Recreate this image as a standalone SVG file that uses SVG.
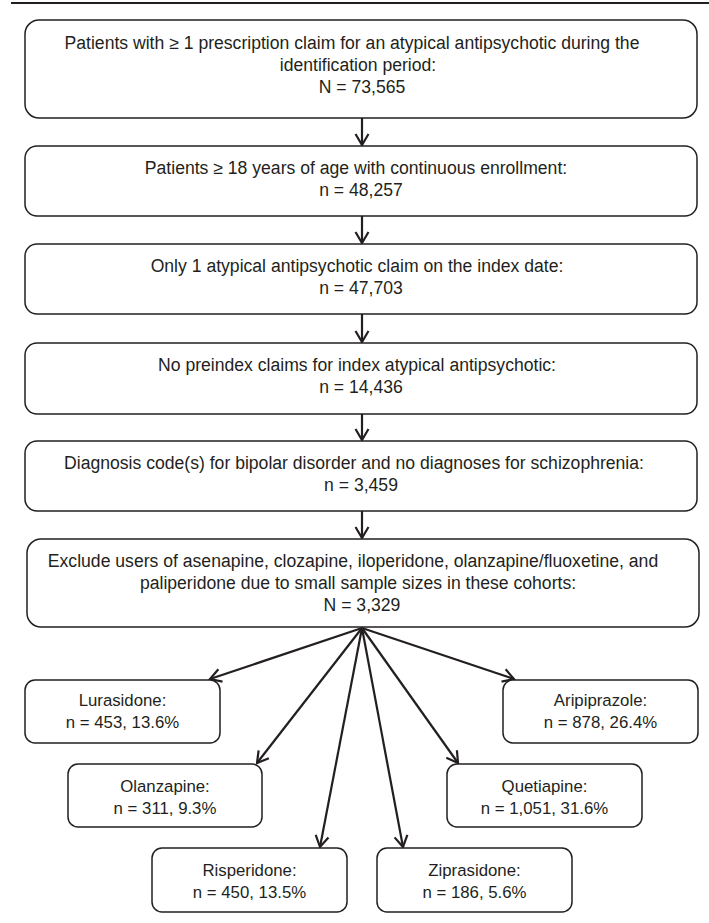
<svg xmlns="http://www.w3.org/2000/svg" width="709" height="923" viewBox="0 0 709 923">
<style>
.b{fill:#fff;stroke:#231f20;stroke-width:1.5}
.t{font-family:"Liberation Sans",Arial,sans-serif;font-size:17.6px;fill:#231f20;text-anchor:middle}
.s{font-size:16.8px}
.c line{stroke:#231f20;stroke-width:2.2;marker-end:url(#a)}
</style>
<defs>
<marker id="a" viewBox="0 0 14 16" refX="12" refY="8" markerWidth="14" markerHeight="16" markerUnits="userSpaceOnUse" orient="auto">
<path d="M1,1.5 L12,8 L1,14.5" fill="none" stroke="#231f20" stroke-width="2.2"/>
</marker>
</defs>
<rect width="709" height="923" fill="#fff"/>
<line x1="11" y1="3" x2="709" y2="3" stroke="#231f20" stroke-width="2"/>
<g class="c">
<line x1="362" y1="118" x2="362" y2="145"/>
<line x1="362" y1="216" x2="362" y2="243"/>
<line x1="362" y1="314" x2="362" y2="342"/>
<line x1="362" y1="414" x2="362" y2="440"/>
<line x1="362" y1="511" x2="362" y2="538"/>
<line x1="362" y1="628" x2="210" y2="679"/>
<line x1="362" y1="628" x2="514" y2="679"/>
<line x1="362" y1="628" x2="257" y2="763"/>
<line x1="362" y1="628" x2="458" y2="763"/>
<line x1="362" y1="628" x2="320" y2="847"/>
<line x1="362" y1="628" x2="403" y2="847"/>
</g>
<g id="n1"><rect class="b" x="25" y="20" width="672" height="98" rx="14"/>
<text class="t" x="352" y="49">Patients with ≥ 1 prescription claim for an atypical antipsychotic during the</text>
<text class="t" x="358" y="71">identification period:</text>
<text class="t" x="362" y="93">N = 73,565</text></g>
<g id="n2"><rect class="b" x="25" y="146" width="672" height="70" rx="12"/>
<text class="t" x="356" y="174">Patients ≥ 18 years of age with continuous enrollment:</text>
<text class="t" x="361" y="196">n = 48,257</text></g>
<g id="n3"><rect class="b" x="25" y="244" width="672" height="70" rx="12"/>
<text class="t" x="357" y="272">Only 1 atypical antipsychotic claim on the index date:</text>
<text class="t" x="361" y="294">n = 47,703</text></g>
<g id="n4"><rect class="b" x="25" y="343" width="672" height="71" rx="12"/>
<text class="t" x="357" y="371">No preindex claims for index atypical antipsychotic:</text>
<text class="t" x="361" y="393">n = 14,436</text></g>
<g id="n5"><rect class="b" x="25" y="441" width="672" height="70" rx="12"/>
<text class="t" x="354" y="469">Diagnosis code(s) for bipolar disorder and no diagnoses for schizophrenia:</text>
<text class="t" x="361" y="491">n = 3,459</text></g>
<g id="n6"><rect class="b" x="27" y="539" width="672" height="88" rx="14"/>
<text class="t" x="353" y="567">Exclude users of asenapine, clozapine, iloperidone, olanzapine/fluoxetine, and</text>
<text class="t" x="358" y="589">paliperidone due to small sample sizes in these cohorts:</text>
<text class="t" x="362" y="611">N = 3,329</text></g>
<g id="lur"><rect class="b" x="25" y="680" width="195" height="63" rx="10"/>
<text class="t s" x="122.5" y="706">Lurasidone:</text>
<text class="t s" x="122.5" y="728">n = 453, 13.6%</text></g>
<g id="ari"><rect class="b" x="503" y="680" width="195" height="63" rx="10"/>
<text class="t s" x="600.5" y="706">Aripiprazole:</text>
<text class="t s" x="600.5" y="728">n = 878, 26.4%</text></g>
<g id="ola"><rect class="b" x="68" y="764" width="194" height="63" rx="10"/>
<text class="t s" x="165" y="792">Olanzapine:</text>
<text class="t s" x="165" y="814">n = 311, 9.3%</text></g>
<g id="que"><rect class="b" x="447" y="764" width="195" height="63" rx="10"/>
<text class="t s" x="544.5" y="792">Quetiapine:</text>
<text class="t s" x="544.5" y="814">n = 1,051, 31.6%</text></g>
<g id="ris"><rect class="b" x="152" y="848" width="195" height="64" rx="10"/>
<text class="t s" x="249.5" y="876">Risperidone:</text>
<text class="t s" x="249.5" y="898">n = 450, 13.5%</text></g>
<g id="zip"><rect class="b" x="377" y="848" width="195" height="64" rx="10"/>
<text class="t s" x="474.5" y="876">Ziprasidone:</text>
<text class="t s" x="474.5" y="898">n = 186, 5.6%</text></g>
</svg>
